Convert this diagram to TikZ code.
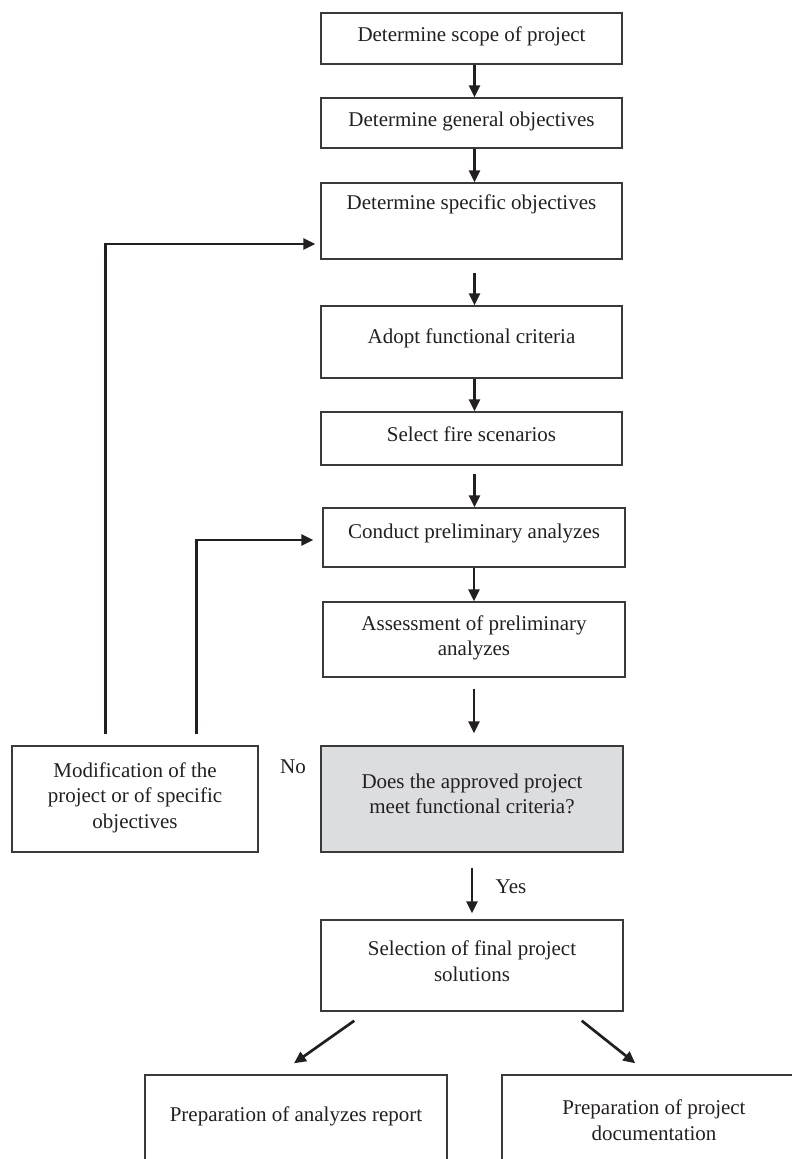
\documentclass[tikz,border=0pt]{standalone}
\usepackage{fontspec}
\setmainfont{Liberation Serif}
\usetikzlibrary{arrows.meta,calc}
\definecolor{ink}{HTML}{231F20}
\definecolor{edge}{HTML}{3A3A3A}
\definecolor{decfill}{HTML}{DCDDDF}
\begin{document}
\begin{tikzpicture}[x=1pt,y=-1pt,
  box/.style={draw=edge, line width=1.4pt, rectangle, inner sep=0pt},
  txt/.style={font=\fontsize{21}{25.5}\selectfont, text=ink, align=center, inner sep=0pt},
  arr/.style={draw=ink, line width=2.7pt, -{Triangle[length=12pt,width=11pt]}}]
\useasboundingbox (0,0) rectangle (792,1159);
\clip (0,0) rectangle (792,1159);

% boxes
\node[box, minimum width=301pt, minimum height=51pt] (b1) at (471.5,38.5) {};
\node[box, minimum width=301pt, minimum height=50pt] (b2) at (471.5,123) {};
\node[box, minimum width=301pt, minimum height=76pt] (b3) at (471.5,221) {};
\node[box, minimum width=301pt, minimum height=72pt] (b4) at (471.5,342) {};
\node[box, minimum width=301pt, minimum height=53pt] (b5) at (471.5,438.5) {};
\node[box, minimum width=302pt, minimum height=59pt] (b6) at (474,537.5) {};
\node[box, minimum width=302pt, minimum height=75pt] (b7) at (474,639.5) {};
\node[box, fill=decfill, minimum width=302pt, minimum height=106pt] (b8) at (472,799) {};
\node[box, minimum width=246pt, minimum height=106pt] (b9) at (135,799) {};
\node[box, minimum width=302pt, minimum height=91pt] (b10) at (472,965.5) {};
\node[box, minimum width=302pt, minimum height=100pt] (b11) at (296,1125) {};
\node[box, minimum width=300pt, minimum height=100pt] (b12) at (652,1125) {};

% texts
\node[txt] (t1) at (471.5,36) {Determine scope of project};
\node[txt] (t2) at (471.5,121) {Determine general objectives};
\node[txt] (t3) at (471.5,204) {Determine specific objectives};
\node[txt] (t4) at (471.5,338) {Adopt functional criteria};
\node[txt] (t5) at (471.5,434) {Select fire scenarios};
\node[txt] (t6) at (474,533) {Conduct preliminary analyzes};
\node[txt] (t7) at (474,638) {Assessment of preliminary\\analyzes};
\node[txt] (t8) at (472,794) {Does the approved project\\meet functional criteria?};
\node[txt] (t9) at (135,797.5) {Modification of the\\project or of specific\\objectives};
\node[txt] (t10) at (472,961) {Selection of final project\\solutions};
\node[txt] (t11) at (296,1116) {Preparation of analyzes report};
\node[txt] (t12) at (654,1120) {Preparation of project\\documentation};
\node[txt] (no) at (293,767) {No};
\node[txt] (yes) at (511,887) {Yes};

% main flow
\draw[arr] ([xshift=3pt]b1.south) -- ([xshift=3pt]b2.north);
\draw[arr] ([xshift=3pt]b2.south) -- ([xshift=3pt]b3.north);
\draw[arr, shorten <=13pt] ([xshift=3pt]b3.south) -- ([xshift=3pt]b4.north);
\draw[arr] ([xshift=3pt]b4.south) -- ([xshift=3pt]b5.north);
\draw[arr, shorten <=8pt] ([xshift=3pt]b5.south) -- ([xshift=3pt]b5.south |- b6.north);
\draw[arr] (b6.south) -- (b7.north);
\draw[arr, shorten <=11pt, shorten >=12pt] (b7.south) -- (b7.south |- b8.north);
\draw[arr, shorten <=15pt, shorten >=6pt] (b8.south) -- (b10.north);
\draw[arr] ($(b10.south west)+(34,9)$) -- ($(b11.north)+(-2,-11)$);
\draw[arr] ($(b10.south east)+(-42,9)$) -- ($(b12.north west)+(134,-11)$);

% feedback loops
\coordinate (f1) at ($(b9.north west)+(94,-11)$);
\coordinate (f2) at ($(b9.north west)+(185,-11)$);
\draw[arr] (f1) |- ($(b3.west)+(-5,23)$);
\draw[arr] (f2) |- ($(b6.west)+(-9,2.5)$);
\end{tikzpicture}
\end{document}
